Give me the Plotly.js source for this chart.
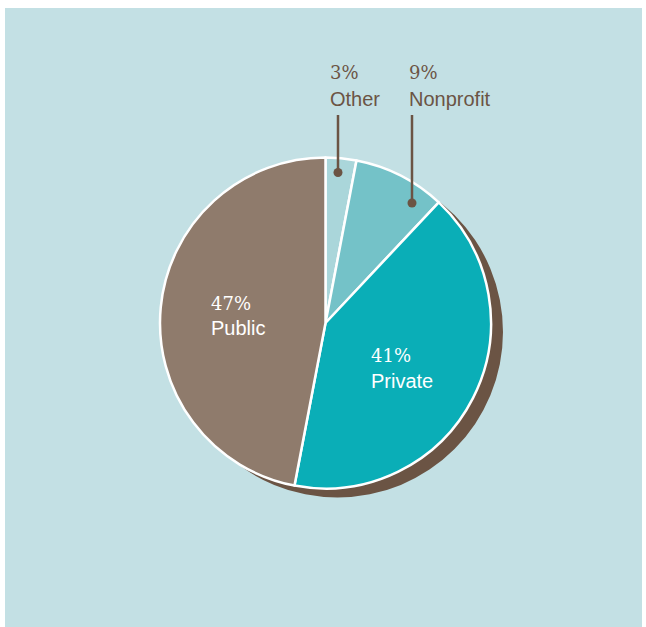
<!DOCTYPE html>
<html>
<head>
<meta charset="utf-8">
<script src="https://cdn.plot.ly/plotly-3.0.1.min.js"></script>
<style>html,body{margin:0;padding:0;background:#fff;}#chart{width:646px;height:627px;}</style>
</head>
<body>
<div id="chart"></div>
<script>
// Data
const categories = ["Other", "Nonprofit", "Private", "Public"];
const shares = [3, 9, 41, 47];
const percentLabels = ["3%", "9%", "41%", "47%"];
const sliceColors = ["#aad6da", "#74c2c8", "#0aaeb7", "#8f7b6c"];

const W = 646, H = 627;
const px = x => x / W;
const py = y => 1 - y / H;

// pie geometry (pixels)
const cx = 325.5, cy = 323, r = 165.5;
const sdx = 12, sdy = 9;

const shadow = {
  type: "pie",
  values: [1],
  labels: ["shadow"],
  sort: false,
  textinfo: "none",
  hoverinfo: "skip",
  showlegend: false,
  marker: {colors: ["#6b5444"], line: {width: 0}},
  domain: {x: [px(cx - r + sdx), px(cx + r + sdx)], y: [py(cy + r + sdy), py(cy - r + sdy)]}
};

const pie = {
  type: "pie",
  values: shares,
  labels: categories,
  sort: false,
  direction: "clockwise",
  rotation: 0,
  textinfo: "none",
  hoverinfo: "label+percent",
  showlegend: false,
  marker: {colors: sliceColors, line: {color: "#ffffff", width: 2.5}},
  domain: {x: [px(cx - r), px(cx + r)], y: [py(cy + r), py(cy - r)]}
};

const brown = "#6b5444";
const serif = "DejaVu Serif, serif";
const sans = "Liberation Sans, Arial, sans-serif";

function lbl(x, y, text, fam, size, color) {
  return {xref: "paper", yref: "paper", x: px(x), y: py(y), xanchor: "left", yanchor: "middle",
    text: text, showarrow: false, font: {family: fam, size: size, color: color}};
}

const annotations = [
  lbl(328, 73, percentLabels[0], serif, 18, brown),
  lbl(328, 99, categories[0], sans, 20, brown),
  lbl(407, 73, percentLabels[1], serif, 18, brown),
  lbl(407, 99, categories[1], sans, 20, brown),
  lbl(209, 303, percentLabels[3], serif, 18, "#ffffff"),
  lbl(209, 328, categories[3], sans, 20, "#ffffff"),
  lbl(369, 355, percentLabels[2], serif, 18, "#ffffff"),
  lbl(369, 381, categories[2], sans, 20, "#ffffff")
];

const shapes = [
  {type: "rect", xref: "paper", yref: "paper", x0: px(5), x1: px(642), y0: py(627), y1: py(8),
   fillcolor: "#c3e0e4", line: {width: 0}, layer: "below"},
  {type: "line", xref: "paper", yref: "paper", x0: px(338), x1: px(338), y0: py(115), y1: py(172),
   line: {color: brown, width: 2.5}},
  {type: "circle", xref: "paper", yref: "paper", x0: px(333.5), x1: px(342.5), y0: py(177), y1: py(168),
   fillcolor: brown, line: {width: 0}},
  {type: "line", xref: "paper", yref: "paper", x0: px(412), x1: px(412), y0: py(115), y1: py(203),
   line: {color: brown, width: 2.5}},
  {type: "circle", xref: "paper", yref: "paper", x0: px(407.5), x1: px(416.5), y0: py(207.5), y1: py(198.5),
   fillcolor: brown, line: {width: 0}}
];

Plotly.newPlot("chart", [shadow, pie], {
  width: W, height: H,
  margin: {l: 0, r: 0, t: 0, b: 0},
  paper_bgcolor: "#ffffff",
  showlegend: false,
  annotations: annotations,
  shapes: shapes
}, {displayModeBar: false, staticPlot: true});
</script>
</body>
</html>
